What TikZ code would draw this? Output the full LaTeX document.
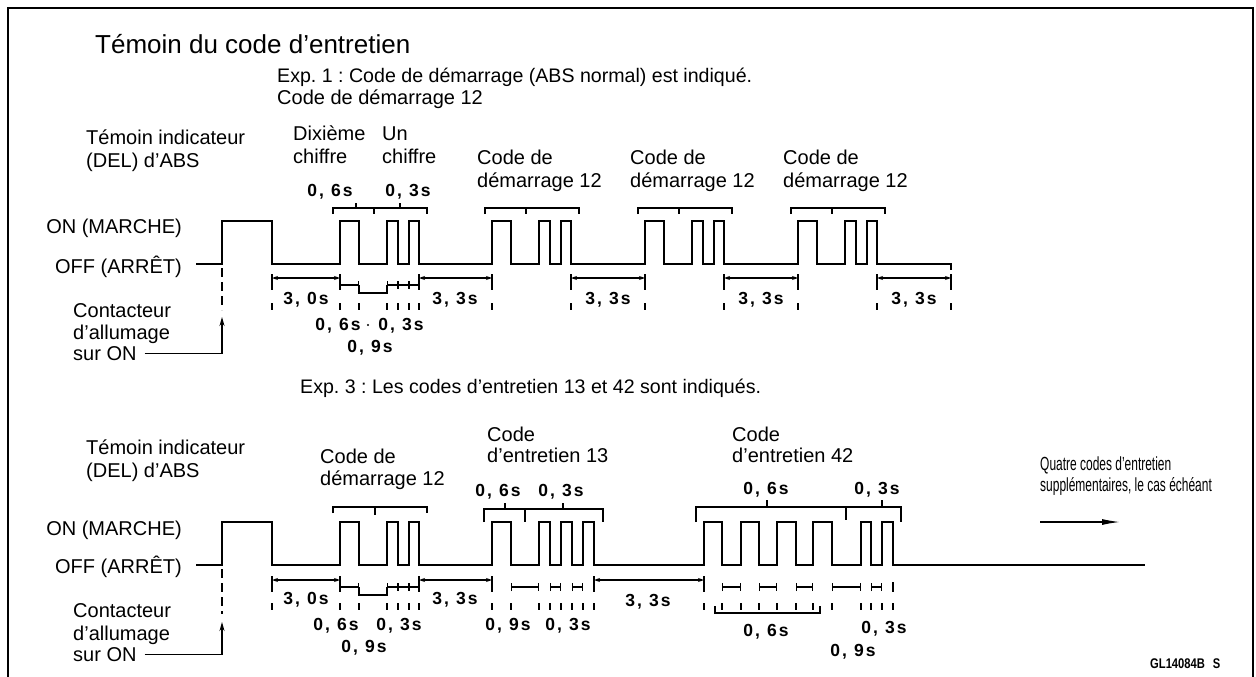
\documentclass[tikz,border=0pt]{standalone}
\usepackage{fontspec}
\setmainfont{Liberation Sans}
\newfontfamily\numf{Liberation Sans}[LetterSpace=12]
\usetikzlibrary{arrows.meta}
\frenchspacing
\begin{document}
\begin{tikzpicture}[x=1pt,y=-1pt,
  txt/.style={inner sep=0pt, font=\frenchspacing\fontsize{20}{23}\selectfont},
  lt/.style={txt, anchor=base west},
  rt/.style={txt, anchor=base east},
  num/.style={inner sep=0pt, anchor=base, font=\numf\bfseries\fontsize{17.5}{19}\selectfont},
  wave/.style={line width=1.6pt, line join=miter},
  brk/.style={line width=1.3pt},
  dimln/.style={line width=1.2pt, {Stealth[length=6pt,width=4pt]}-{Stealth[length=6pt,width=4pt]}},
  seg/.style={line width=1.2pt, {Bar[width=8pt]}-{Bar[width=8pt]}},
  tk/.style={line width=1.2pt},
  igl/.style={line width=1.2pt, dash pattern=on 9pt off 5pt},
  igarrow/.style={line width=1.2pt, -{Stealth[length=9pt,width=5pt]}}
]
\useasboundingbox (0,0) rectangle (1256,677);
\draw[line width=1.6pt] (8,677) -- (8,8) -- (1253,8) -- (1253,677);

% ---------- titles ----------
\node[anchor=base west, inner sep=0pt, font=\fontsize{26}{30}\selectfont] (title) at (95,54) {Témoin du code d'entretien};
\node[lt, font=\frenchspacing\fontsize{19.6}{23}\selectfont] (exp1) at (277,82) {Exp. 1 : Code de démarrage (ABS normal) est indiqué.};
\node[lt] (exp1b) at (277,104) {Code de démarrage 12};
\node[lt, font=\frenchspacing\fontsize{19.6}{23}\selectfont] (exp3) at (300,393) {Exp. 3 : Les codes d'entretien 13 et 42 sont indiqués.};

% ---------- top section left labels ----------
\node[lt] (ta1) at (86,144) {Témoin indicateur};
\node[lt] (ta2) at (86,167) {(DEL) d'ABS};
\node[rt] (ton) at (182,233) {ON (MARCHE)};
\node[rt] (toff) at (182,273) {OFF (ARRÊT)};
\node[lt] (tc1) at (73,317) {Contacteur};
\node[lt] (tc2) at (73,339) {d'allumage};
\node[lt] (tc3) at (73,360) {sur ON};

% ---------- bottom section left labels ----------
\node[lt] (ba1) at (86,454) {Témoin indicateur};
\node[lt] (ba2) at (86,477) {(DEL) d'ABS};
\node[rt] (bon) at (182,535) {ON (MARCHE)};
\node[rt] (boff) at (182,573) {OFF (ARRÊT)};
\node[lt] (bc1) at (73,617) {Contacteur};
\node[lt] (bc2) at (73,640) {d'allumage};
\node[lt] (bc3) at (73,661) {sur ON};

% ---------- top code labels ----------
\node[lt] (dx1) at (293,140) {Dixième};
\node[lt] (dx2) at (293,163) {chiffre};
\node[lt] (un1) at (382,140) {Un};
\node[lt] (un2) at (382,163) {chiffre};
\foreach \s/\n in {492/a,645/b,798/c}{
  \node[lt] (cd\n1) at (\s-15,164) {Code de};
  \node[lt] (cd\n2) at (\s-15,187) {démarrage 12};
}

% ---------- bottom code labels ----------
\node[lt] (bcd1) at (320,463) {Code de};
\node[lt] (bcd2) at (320,485) {démarrage 12};
\node[lt] (c13a) at (487,441) {Code};
\node[lt] (c13b) at (487,462) {d'entretien 13};
\node[lt] (c42a) at (732,441) {Code};
\node[lt] (c42b) at (732,462) {d'entretien 42};
\node[anchor=base west, inner sep=0pt, font=\fontsize{19}{21}\selectfont] (q1) at (1040,470) {\scalebox{0.63}[1]{Quatre codes d'entretien}};
\node[anchor=base west, inner sep=0pt, font=\fontsize{19}{21}\selectfont] (q2) at (1040,491) {\scalebox{0.63}[1]{supplémentaires, le cas échéant}};
\coordinate (qa) at (1040,522);
\coordinate (qb) at (1120,522);
\draw[line width=1.3pt, -{Latex[length=18pt,width=6pt]}] (qa) -- (qb);
\node[anchor=base west, inner sep=0pt, font=\bfseries\fontsize{14}{16}\selectfont] (gl) at (1150,668) {\scalebox{0.8}[1]{GL14084B\hspace{10pt}S}};

% ---------- top waveform ----------
\draw[wave] (196,264) -- (222,264) -- (222,221) -- (272,221) -- (272,264)
  foreach \s in {340,492,645,798}{
    -- (\s,264) -- (\s,221) -- (\s+19,221) -- (\s+19,264)
    -- (\s+47,264) -- (\s+47,221) -- (\s+58,221) -- (\s+58,264)
    -- (\s+69,264) -- (\s+69,221) -- (\s+79,221) -- (\s+79,264)
  } -- (951,264) -- (951,270);

% top brackets
\foreach \s in {340,492,645,798}{
  \draw[brk] (\s-7,214) -- (\s-7,208) -- (\s+87,208) -- (\s+87,214);
  \draw[brk] (\s+34,208) -- (\s+34,214);
}
\draw[brk] (356,208) -- (356,203);
\draw[brk] (400,208) -- (400,203);
\node[num] (n1) at (330,196) {0, 6s};
\node[num] (n2) at (408,196) {0, 3s};

% top ignition
\coordinate (ti) at (222,317);
\draw[igl] (222,268) -- (222,310);
\draw[igarrow] ([xshift=8pt]tc3.east) -| (ti);

% top dimensions
\foreach \a/\b in {272/340,419/492,571/645,724/798,877/951}{
  \draw[dimln] (\a,278) -- (\b,278);
  \draw[tk] (\a,274) -- (\a,290);
  \draw[tk] (\b,274) -- (\b,290);
}
\foreach \x in {272,340,359,387,398,409,419,492,571,645,724,798,877,951}{
  \draw[tk] (\x,303) -- (\x,310);
}
\draw[seg] (340,285) -- (359,285);
\draw[tk] (359,285) -- (359,293) -- (387,293) -- (387,285);
\draw[seg] (387,285) -- (398,285);
\draw[seg] (398,285) -- (409,285);
\draw[seg] (409,285) -- (419,285);
\node[num] (n3) at (306,304) {3, 0s};
\node[num] (n4) at (455,304) {3, 3s};
\node[num] (n5) at (608,304) {3, 3s};
\node[num] (n6) at (761,304) {3, 3s};
\node[num] (n7) at (914,304) {3, 3s};
\node[num] (n8) at (338,330) {0, 6s};
\fill (368,325) circle (1.1pt);
\node[num] (n9) at (401,330) {0, 3s};
\node[num] (n10) at (370,352) {0, 9s};

% ---------- bottom waveform ----------
\draw[wave] (196,565) -- (222,565) -- (222,522) -- (272,522) -- (272,565)
  foreach \a/\b in {340/359,387/398,409/419,492/511,539/550,561/572,583/594,704/722,741/759,777/796,813/832,861/871,882/893}{
    -- (\a,565) -- (\a,522) -- (\b,522) -- (\b,565)
  } -- (1145,565);

% bottom brackets
\draw[brk] (333,513) -- (333,507) -- (427,507) -- (427,513);
\draw[brk] (375,507) -- (375,515);
\draw[brk] (484,522) -- (484,509) -- (603,509) -- (603,522);
\draw[brk] (525,509) -- (525,522);
\draw[brk] (505,509) -- (505,503);
\draw[brk] (563,509) -- (563,503);
\draw[brk] (696,522) -- (696,507) -- (901,507) -- (901,522);
\draw[brk] (846,507) -- (846,520);
\draw[brk] (767,507) -- (767,500);
\draw[brk] (882,507) -- (882,500);
\node[num] (m1) at (498,496) {0, 6s};
\node[num] (m2) at (561,496) {0, 3s};
\node[num] (m3) at (766,494) {0, 6s};
\node[num] (m4) at (877,494) {0, 3s};

% bottom ignition
\coordinate (bi) at (222,622);
\draw[igl] (222,569) -- (222,614);
\draw[igarrow] ([xshift=8pt]bc3.east) -| (bi);

% bottom dimensions
\foreach \a/\b in {272/340,419/492,594/704}{
  \draw[dimln] (\a,580) -- (\b,580);
  \draw[tk] (\a,576) -- (\a,592);
  \draw[tk] (\b,576) -- (\b,592);
}
\foreach \x in {272,340,359,387,398,409,419,492,511,539,550,561,572,583,594,704,722,741,759,777,796,813,832,861,871,882,893}{
  \draw[tk] (\x,603) -- (\x,610);
}
\draw[seg] (340,587) -- (359,587);
\draw[tk] (359,587) -- (359,595) -- (387,595) -- (387,587);
\draw[seg] (387,587) -- (398,587);
\draw[seg] (398,587) -- (409,587);
\draw[seg] (409,587) -- (419,587);
\draw[tk] (492,582) -- (492,592);
\foreach \a/\b in {511/539,550/561,572/583,722/741,759/777,796/813,832/861,871/882}{
  \draw[seg] (\a,587) -- (\b,587);
}
\draw[tk] (893,582) -- (893,592);
\draw[tk] (715,606) -- (715,613) -- (820,613) -- (820,606);

\node[num] (m5) at (306,604) {3, 0s};
\node[num] (m6) at (455,604) {3, 3s};
\node[num] (m7) at (648,606) {3, 3s};
\node[num] (m8) at (336,630) {0, 6s};
\node[num] (m9) at (399,630) {0, 3s};
\node[num] (m10) at (364,652) {0, 9s};
\node[num] (m11) at (508,630) {0, 9s};
\node[num] (m12) at (568,630) {0, 3s};
\node[num] (m13) at (766,636) {0, 6s};
\node[num] (m14) at (884,633) {0, 3s};
\node[num] (m15) at (853,656) {0, 9s};
\end{tikzpicture}
\end{document}
